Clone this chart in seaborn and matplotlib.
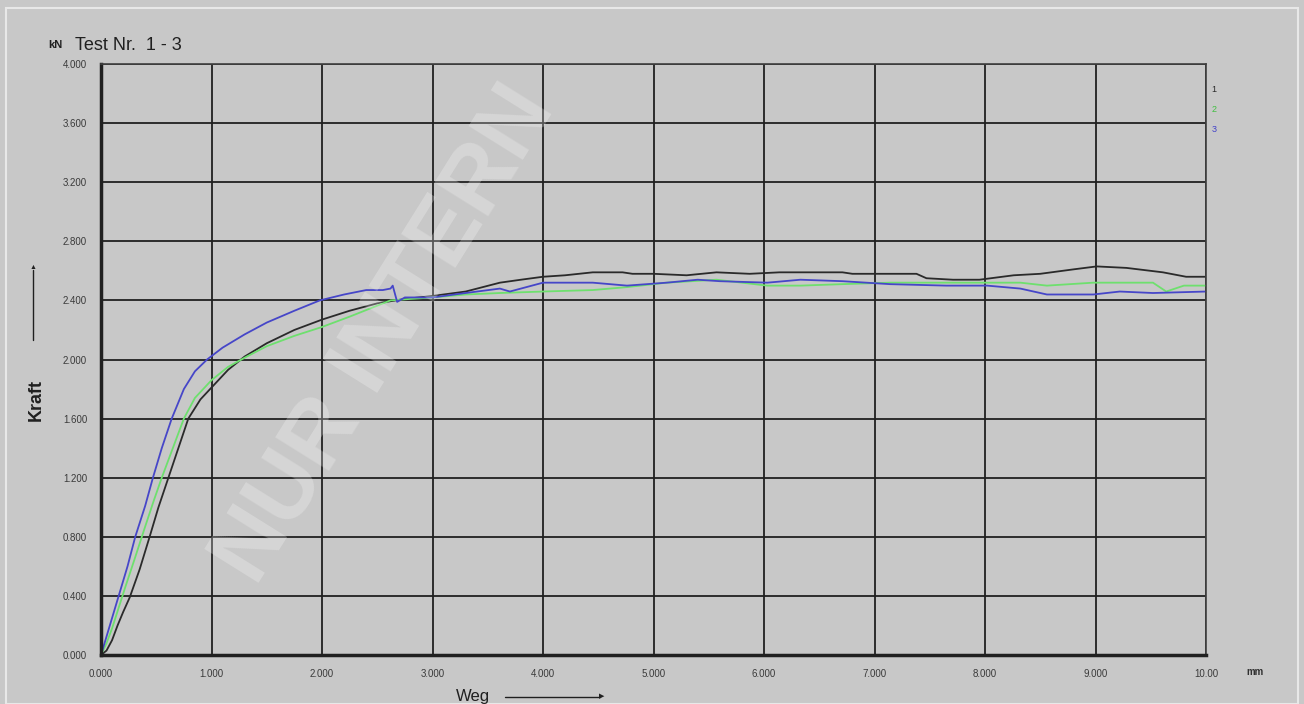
import pandas as pd
import matplotlib.pyplot as plt
import seaborn as sns

# Kraft-Weg curves (x in mm, y in kN)
weg_1 = [0, 0.05, 0.10, 0.15, 0.20, 0.26, 0.35, 0.44, 0.52, 0.61, 0.70, 0.79, 0.90, 1.00,
         1.15, 1.30, 1.50, 1.75, 2.00, 2.25, 2.50, 2.75, 3.00, 3.30, 3.61, 3.80, 4.00, 4.20,
         4.45, 4.72, 4.81, 5.00, 5.30, 5.57, 5.87, 6.14, 6.33, 6.71, 6.80, 7.38, 7.47, 7.71,
         7.95, 8.26, 8.50, 8.80, 9.01, 9.28, 9.61, 9.82, 10.0]
kraft_1 = [0, 0.03, 0.10, 0.20, 0.29, 0.39, 0.58, 0.80, 1.00, 1.20, 1.40, 1.60, 1.73, 1.81,
           1.93, 2.02, 2.11, 2.20, 2.27, 2.33, 2.38, 2.41, 2.43, 2.46, 2.52, 2.54, 2.56, 2.57,
           2.59, 2.59, 2.58, 2.58, 2.57, 2.59, 2.58, 2.59, 2.59, 2.59, 2.58, 2.58, 2.55, 2.54,
           2.54, 2.57, 2.58, 2.61, 2.63, 2.62, 2.59, 2.56, 2.56]

weg_2 = [0, 0.05, 0.10, 0.16, 0.22, 0.30, 0.40, 0.48, 0.55, 0.65, 0.75, 0.85, 1.00, 1.15,
         1.32, 1.50, 1.75, 2.00, 2.25, 2.62, 2.80, 3.00, 3.30, 3.61, 4.00, 4.45, 4.76, 5.12,
         5.57, 6.03, 6.33, 6.71, 7.14, 7.65, 8.02, 8.32, 8.56, 8.98, 9.52, 9.64, 9.80, 10.0]
kraft_2 = [0, 0.08, 0.18, 0.32, 0.46, 0.64, 0.87, 1.05, 1.20, 1.40, 1.60, 1.74, 1.86, 1.95,
           2.02, 2.09, 2.16, 2.22, 2.29, 2.40, 2.41, 2.42, 2.44, 2.45, 2.46, 2.47, 2.49, 2.52,
           2.54, 2.50, 2.50, 2.51, 2.52, 2.52, 2.52, 2.52, 2.50, 2.52, 2.52, 2.46, 2.50, 2.50]

weg_3 = [0, 0.04, 0.08, 0.16, 0.24, 0.31, 0.40, 0.47, 0.55, 0.64, 0.75, 0.85, 0.96, 1.10,
         1.30, 1.50, 1.75, 1.98, 2.20, 2.40, 2.55, 2.62, 2.64, 2.68, 2.75, 3.00, 3.30, 3.61,
         3.70, 4.00, 4.45, 4.76, 5.12, 5.40, 5.60, 6.03, 6.33, 6.71, 7.14, 7.65, 8.02, 8.32,
         8.56, 8.98, 9.22, 9.52, 10.0]
kraft_3 = [0, 0.10, 0.20, 0.40, 0.60, 0.80, 1.01, 1.20, 1.40, 1.60, 1.80, 1.92, 2.00, 2.08,
           2.17, 2.25, 2.33, 2.40, 2.44, 2.47, 2.47, 2.48, 2.50, 2.39, 2.42, 2.42, 2.45, 2.48,
           2.46, 2.52, 2.52, 2.50, 2.52, 2.54, 2.53, 2.52, 2.54, 2.53, 2.51, 2.50, 2.50, 2.48,
           2.44, 2.44, 2.46, 2.45, 2.46]

x_ticks = [0, 1, 2, 3, 4, 5, 6, 7, 8, 9, 10]
x_labels = ["0.000", "1.000", "2.000", "3.000", "4.000", "5.000", "6.000", "7.000",
            "8.000", "9.000", "10.00"]
y_ticks = [0, 0.4, 0.8, 1.2, 1.6, 2.0, 2.4, 2.8, 3.2, 3.6, 4.0]
y_labels = ["0.000", "0.400", "0.800", "1.200", "1.600", "2.000", "2.400", "2.800",
            "3.200", "3.600", "4.000"]

tests = ["1", "2", "3"]
colors = {"1": "#2a2a2a", "2": "#6ee06e", "3": "#4646c8"}
legend_colors = {"1": "#2a2a2a", "2": "#3fbf3f", "3": "#4040c8"}

df = pd.concat([
    pd.DataFrame({"Weg": weg_1, "Kraft": kraft_1, "Test": "1"}),
    pd.DataFrame({"Weg": weg_2, "Kraft": kraft_2, "Test": "2"}),
    pd.DataFrame({"Weg": weg_3, "Kraft": kraft_3, "Test": "3"}),
])

bg = "#c8c8c8"
sns.set_style("white", {"axes.facecolor": bg, "figure.facecolor": bg})
plt.rcParams["font.family"] = ["Liberation Sans", "DejaVu Sans"]

fig = plt.figure(figsize=(13.04, 7.04), dpi=100)
ax = fig.add_axes([101 / 1304, 49 / 704, 1105 / 1304, 591 / 704])

sns.lineplot(data=df, x="Weg", y="Kraft", hue="Test", palette=colors,
             hue_order=tests, sort=False, estimator=None, lw=1.3, legend=False, ax=ax)

ax.set_xlim(0, 10)
ax.set_ylim(0, 4)
ax.set_xticks(x_ticks)
ax.set_xticklabels(x_labels)
ax.set_yticks(y_ticks)
ax.set_yticklabels(y_labels)
ax.tick_params(length=0, labelsize=7, colors="#3a3a3a", pad=10)
ax.grid(True, color="#202020", lw=1.3)
ax.set_axisbelow(True)
ax.set_xlabel("")
ax.set_ylabel("")
for side in ["top", "right"]:
    ax.spines[side].set_linewidth(1.2)
    ax.spines[side].set_color("#404040")
for side in ["left", "bottom"]:
    ax.spines[side].set_linewidth(2.5)
    ax.spines[side].set_color("#202020")

# titles and axis names
fig.text(48 / 1304, 1 - 45 / 704, "kN", fontsize=8, fontweight="bold", color="#202020",
         va="center")
fig.text(75 / 1304, 1 - 45 / 704, "Test Nr.  1 - 3", fontsize=13, color="#202020",
         va="center")
fig.text(1255 / 1304, 1 - 672 / 704, "mm", fontsize=7, fontweight="bold", color="#303030",
         va="center", ha="center")
fig.text(36 / 1304, 1 - 400 / 704, "Kraft", fontsize=13, fontweight="bold", rotation=90,
         color="#202020", va="center", ha="center")
fig.text(473 / 1304, 1 - 697 / 704, "Weg", fontsize=12, color="#202020",
         va="center", ha="center")
fig.add_artist(plt.Line2D([33 / 1304, 33 / 1304], [1 - 340 / 704, 1 - 270 / 704],
                          color="#202020", lw=1))
fig.add_artist(plt.Line2D([505 / 1304, 600 / 1304], [1 - 697 / 704, 1 - 697 / 704],
                          color="#202020", lw=1))
fig.text(33 / 1304, 1 - 268 / 704, "\u25B2", fontsize=5, color="#202020",
         ha="center", va="center")
fig.text(602 / 1304, 1 - 697 / 704, "\u25B6", fontsize=5, color="#202020",
         ha="center", va="center")

# legend numbers
for i, t in enumerate(tests):
    fig.text(1214 / 1304, 1 - (90 + i * 20) / 704, t, fontsize=6.5, color=legend_colors[t],
             ha="center", va="center")

# watermark
fig.text(385 / 1304, 1 - 335 / 704, "NUR INTERN", fontsize=66, fontweight="bold",
         color="white", alpha=0.25, rotation=58, ha="center", va="center")

# outer frame
fig.add_artist(plt.Rectangle((6 / 1304, 0), 1292 / 1304, 1 - 8 / 704, fill=False,
                             edgecolor="#e8e8e8", lw=1.5, transform=fig.transFigure))

plt.savefig("out.png", dpi=100, facecolor=bg)
plt.close()
